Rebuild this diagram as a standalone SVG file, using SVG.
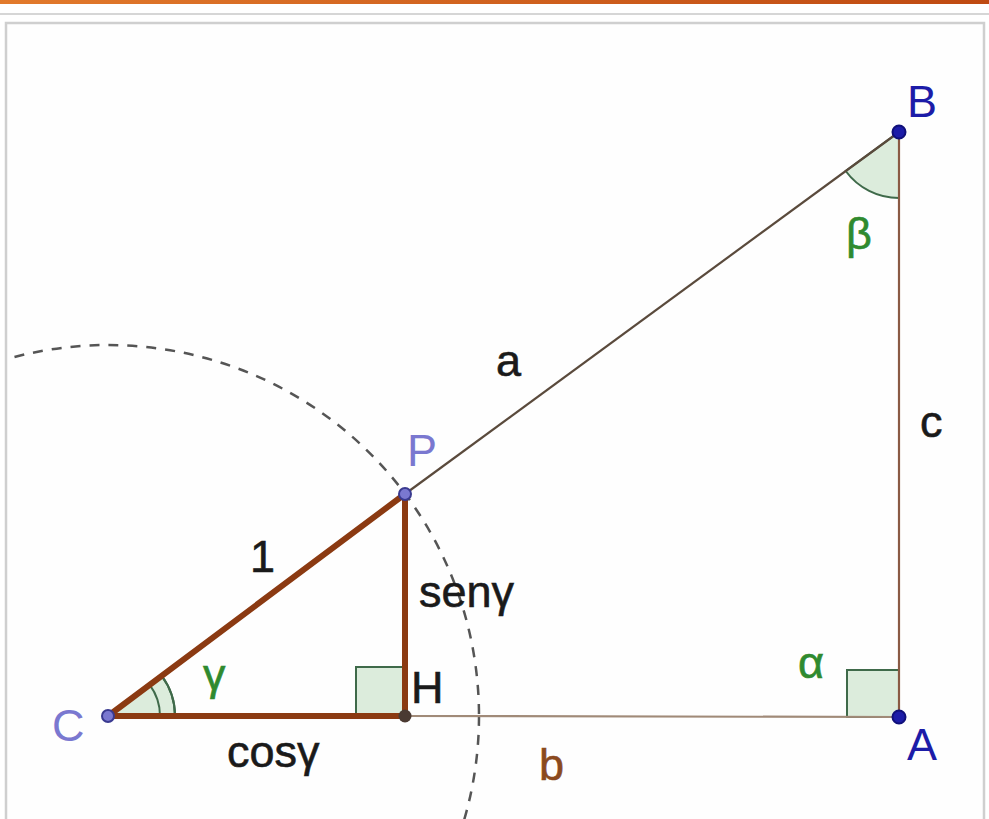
<svg xmlns="http://www.w3.org/2000/svg" width="989" height="819" viewBox="0 0 989 819">
<defs>
<linearGradient id="og" x1="0" x2="1" y1="0" y2="0"><stop offset="0" stop-color="#e27a2c"/><stop offset="1" stop-color="#bf4a12"/></linearGradient>
<clipPath id="panel"><rect x="7" y="24" width="976" height="800"/></clipPath>
<style>
.lbl{font-family:"Liberation Sans",Arial,sans-serif;font-size:45px;stroke-width:0.6}
.grn{fill:#2f8a2f;stroke:#2f8a2f}
.blk{fill:#1a1a1a;stroke:#1a1a1a}
.pt1{fill:#7a78d0;stroke:#3a3a90;stroke-width:2}
.pt2{fill:#1c1ca8;stroke:#10107a;stroke-width:2}
.thick{stroke:#8b3a12;stroke-width:6;stroke-linecap:round;fill:none}
.ang{fill:#dcecdc;stroke:#3f6a4a;stroke-width:2}
.arc{fill:none;stroke:#3f6a4a;stroke-width:2}
</style>
</defs>
<rect width="989" height="819" fill="#ffffff"/>
<rect x="0" y="0" width="989" height="4" fill="url(#og)"/>
<rect x="0" y="13" width="989" height="2" fill="#d6d6d6"/>
<rect x="6" y="23" width="978" height="800" fill="#fefefe" stroke="#cfcfcf" stroke-width="2.5"/>
<g id="circle" clip-path="url(#panel)">
<circle cx="108" cy="716" r="371" fill="none" stroke="#555555" stroke-width="2.5" stroke-dasharray="10 9"/>
</g>
<g id="angles">
<path class="ang" d="M108 716 L175 716 A67 67 0 0 0 161.7 675.9 Z" stroke="none"/>
<path class="arc" d="M160 716 A52 52 0 0 0 149.7 684.9"/>
<path class="arc" d="M175 716 A67 67 0 0 0 161.7 675.9"/>
<path class="ang" d="M899 132 L899 198 A66 66 0 0 1 845.7 171 Z"/>
<rect class="ang" x="356" y="667" width="49" height="49"/>
<rect class="ang" x="847" y="670" width="52" height="47"/>
</g>
<g id="connectors">
<line x1="405" y1="494" x2="899" y2="132" stroke="#5a4a3c" stroke-width="2.2"/>
<line x1="899" y1="132" x2="899" y2="717" stroke="#8a5a44" stroke-width="2.2"/>
<line x1="405" y1="716" x2="899" y2="717" stroke="#a08a78" stroke-width="2.2"/>
<line class="thick" x1="108" y1="716" x2="405" y2="494"/>
<line class="thick" x1="405" y1="494" x2="405" y2="716"/>
<line class="thick" x1="108" y1="716" x2="405" y2="716"/>
</g>
<g id="node-C"><circle class="pt1" cx="108" cy="716" r="6"/><text class="lbl" x="52" y="741" fill="#7a78d0">C</text></g>
<g id="node-P"><circle class="pt1" cx="405" cy="494" r="6"/><text class="lbl" x="407" y="466" fill="#7a78d0">P</text></g>
<g id="node-H"><circle cx="405" cy="716" r="6.5" fill="#4a3a32"/><text class="lbl blk" x="411" y="703">H</text></g>
<g id="node-A"><circle class="pt2" cx="899" cy="717" r="6.5"/><text class="lbl" x="907" y="760" fill="#1c1ca8">A</text></g>
<g id="node-B"><circle class="pt2" cx="899" cy="132" r="6.5"/><text class="lbl" x="907" y="117" fill="#1c1ca8">B</text></g>
<g id="labels">
<text class="lbl blk" x="496" y="376">a</text>
<text class="lbl blk" x="920" y="437">c</text>
<text class="lbl blk" x="250" y="572">1</text>
<text class="lbl blk" x="419" y="607">senγ</text>
<text class="lbl grn" x="203" y="690">γ</text>
<text class="lbl blk" x="227" y="767">cosγ</text>
<text class="lbl" x="539" y="780" fill="#8b4a1e" stroke="#8b4a1e">b</text>
<text class="lbl grn" x="798" y="678">α</text>
<text class="lbl grn" x="846" y="249">β</text>
</g>
</svg>
